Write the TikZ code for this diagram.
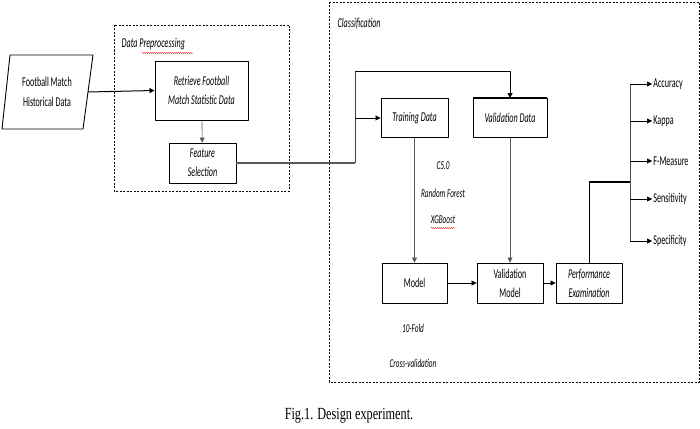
\documentclass[tikz,border=0pt]{standalone}
\usepackage{fontspec}
\setmainfont[FakeStretch=0.6]{Carlito}
\newfontfamily\capfont[FakeStretch=0.72]{Liberation Serif}
\usetikzlibrary{arrows.meta,decorations.pathmorphing}

\tikzset{
  box/.style={draw,line width=0.8pt,align=center,inner sep=1pt,minimum height=40pt},
  group/.style={draw,dash pattern=on 2pt off 1.5pt,line width=0.6pt},
  metric/.style={anchor=west,inner sep=1pt},
  note/.style={font=\fontsize{12}{14}\selectfont\itshape},
  squiggle/.style={red,line width=0.4pt,decorate,decoration={snake,amplitude=0.6pt,segment length=2pt}}
}

\begin{document}
\begin{tikzpicture}[x=1pt,y=-1pt,>={Triangle[length=5pt,width=5pt]},line join=round,line width=0.6pt,font=\fontsize{13.5}{16}\selectfont]
\useasboundingbox (0,0) rectangle (700,428);

% groups
\draw[group] (114,25) rectangle (289,191);
\draw[group] (329,2) rectangle (699,382);
\node[anchor=west,font=\fontsize{13.5}{16}\selectfont\itshape] (dp) at (118,44) {Data Preprocessing};
\node[anchor=west,font=\fontsize{13.5}{16}\selectfont\itshape] (cls) at (334,24) {Classification};
\draw[squiggle] (142,53) -- (193,53);

% input
\draw[line width=0.9pt] (10,55) -- (93,55) -- (83,129) -- (2,129) -- cycle;
\node[align=center,font=\fontsize{13.5}{20}\selectfont] (hist) at (47,92) {Football Match\\Historical Data};
\coordinate (histR) at (88,92);

% boxes
\node[box,line width=1pt,minimum width=93pt,minimum height=59pt,font=\fontsize{13.5}{19}\selectfont\itshape] (retr) at (201.5,90.5) {Retrieve Football\\Match Statistic Data};
\node[box,minimum width=67pt,font=\fontsize{13.5}{19}\selectfont\itshape] (feat) at (202.5,163) {Feature\\Selection};
\node[box,minimum width=67pt,minimum height=39pt,font=\fontsize{13.5}{16}\selectfont\itshape] (train) at (414.5,118) {Training Data};
\node[box,minimum width=74pt,minimum height=39pt,font=\fontsize{13.5}{16}\selectfont\itshape] (valid) at (510,118) {Validation Data};
\draw[line width=1.6pt] (valid.north west) -- (valid.north east);
\node[box,minimum width=65pt] (model) at (414.5,283) {Model};
\node[box,minimum width=66pt,font=\fontsize{13.5}{19}\selectfont] (vmodel) at (510,283) {Validation\\Model};
\node[box,minimum width=66pt,font=\fontsize{13.5}{19}\selectfont\itshape] (perf) at (589,283) {Performance\\Examination};

% notes
\node[note] (c50) at (443,166) {C5.0};
\node[note] (rf) at (443,193) {Random Forest};
\node[note] (xgb) at (443,220) {XGBoost};
\draw[squiggle] (431,228) -- (455,228);
\node[note] (fold) at (413,328) {10-Fold};
\node[note] (cv) at (413,363) {Cross-validation};

% connectors
\draw[->,line width=1pt] (histR) -- (retr.west);
\draw[->,gray!70!black] (retr) -- (feat);
\coordinate (split) at (355,163);
\coordinate (top) at (355,71);
\draw[gray!70!black,line width=2pt] (feat.east) -- (split);
\draw[gray!50!black] (split) -- (top);
\draw[->] (top) -| (valid.north);
\draw[->] (split |- train) -- (train.west);
\draw[->,gray!70!black] (train) -- (model);
\draw[->,gray!70!black] (valid) -- (vmodel);
\draw[->] (model) -- (vmodel);
\draw[->] (vmodel) -- (perf);

% metrics
\coordinate (hub) at (630,182);
\draw (perf.north) |- (589,182);
\draw[line width=1.6pt] (589,182) -- (hub);
\draw[gray!60!black] (630,84) -- (630,241);
\foreach \m/\y/\t in {acc/84/Accuracy,kap/121/Kappa,fm/161/F-Measure,sen/199/Sensitivity,spe/241/Specificity}{
  \node[metric] (\m) at (652,\y) {\t};
  \draw[->] (630,\y) -- (\m.west);
}

% caption
\node[font=\capfont\fontsize{17}{20}\selectfont] (fig) at (349,416) {Fig.1. Design experiment.};
\end{tikzpicture}
\end{document}
